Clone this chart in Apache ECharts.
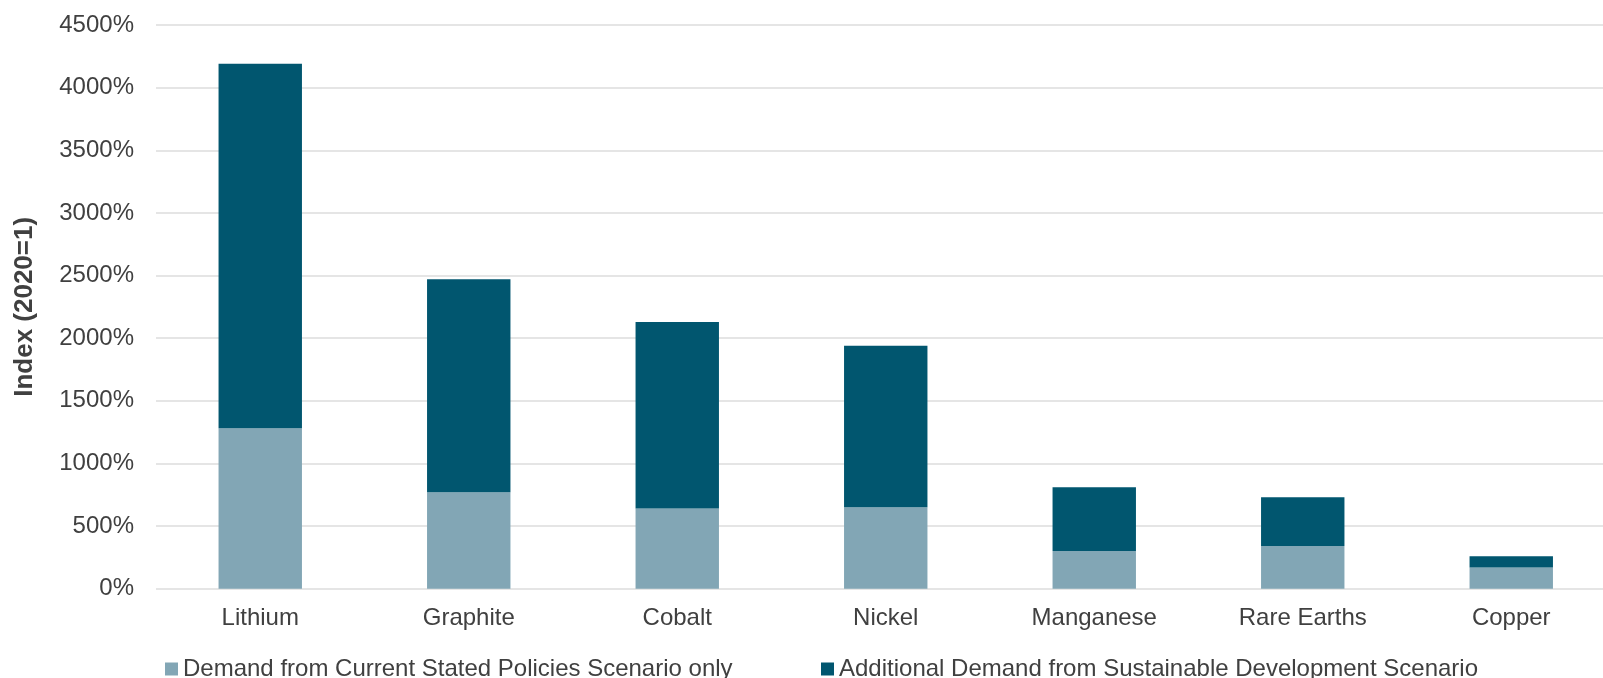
<!DOCTYPE html>
<html>
<head>
<meta charset="utf-8">
<script src="https://cdn.jsdelivr.net/npm/echarts@6/dist/echarts.min.js"></script>
<style>
  html, body { margin: 0; padding: 0; background: #ffffff; }
  #chart { width: 1603px; height: 678px; }
</style>
</head>
<body>
<div id="chart"></div>
<script>
// Minerals shown along the x axis
const minerals = ['Lithium', 'Graphite', 'Cobalt', 'Nickel', 'Manganese', 'Rare Earths', 'Copper'];

// Demand index in 2040 relative to 2020, in percent
const statedPolicies = [1280, 770, 640, 650, 300, 340, 170];
const additionalSDS  = [2910, 1700, 1490, 1290, 510, 390, 90];

// Y axis ticks
const yTicks = { min: 0, max: 4500, step: 500 };

const seriesNames = [
  'Demand from Current Stated Policies Scenario only',
  'Additional Demand from Sustainable Development Scenario'
];

const FONT = '"Liberation Sans", Arial, sans-serif';
const TEXT = '#404040';

const chart = echarts.init(document.getElementById('chart'), null, { renderer: 'canvas' });

const legendText = { fontFamily: FONT, fontSize: 24, color: TEXT };

chart.setOption({
  animation: false,
  backgroundColor: '#ffffff',
  textStyle: { fontFamily: FONT, color: TEXT },
  grid: {
    left: 156, top: 25, width: 1459.5, height: 563.7,
    containLabel: false,
    outerBoundsMode: 'none'
  },
  legend: [
    {
      data: [seriesNames[0]],
      left: 165, top: 657, padding: 0,
      itemWidth: 13, itemHeight: 13, itemGap: 0,
      icon: 'rect',
      textStyle: legendText
    },
    {
      data: [seriesNames[1]],
      left: 821, top: 657, padding: 0,
      itemWidth: 13, itemHeight: 13, itemGap: 0,
      icon: 'rect',
      textStyle: legendText
    }
  ],
  xAxis: {
    type: 'category',
    data: minerals,
    axisLine: { show: false },
    axisTick: { show: false },
    axisLabel: { fontFamily: FONT, fontSize: 24, color: TEXT, margin: 18 }
  },
  yAxis: {
    type: 'value',
    min: yTicks.min,
    max: yTicks.max,
    interval: yTicks.step,
    name: 'Index (2020=1)',
    nameLocation: 'middle',
    nameRotate: 90,
    nameGap: 118,
    nameTextStyle: { fontFamily: FONT, fontSize: 26, fontWeight: 'bold', color: TEXT, padding: [0, 0, 0, 0] },
    axisLine: { show: false },
    axisTick: { show: false },
    splitLine: { lineStyle: { color: '#DCDCDC', width: 1.6 } },
    axisLabel: {
      fontFamily: FONT, fontSize: 24, color: TEXT, margin: 22,
      formatter: v => String(v) + '%'
    }
  },
  series: [
    {
      name: seriesNames[0],
      type: 'bar',
      stack: 'demand',
      data: statedPolicies,
      barCategoryGap: '60%',
      itemStyle: { color: '#82A6B5' }
    },
    {
      name: seriesNames[1],
      type: 'bar',
      stack: 'demand',
      data: additionalSDS,
      barCategoryGap: '60%',
      itemStyle: { color: '#01566F' }
    }
  ]
});
</script>
</body>
</html>
